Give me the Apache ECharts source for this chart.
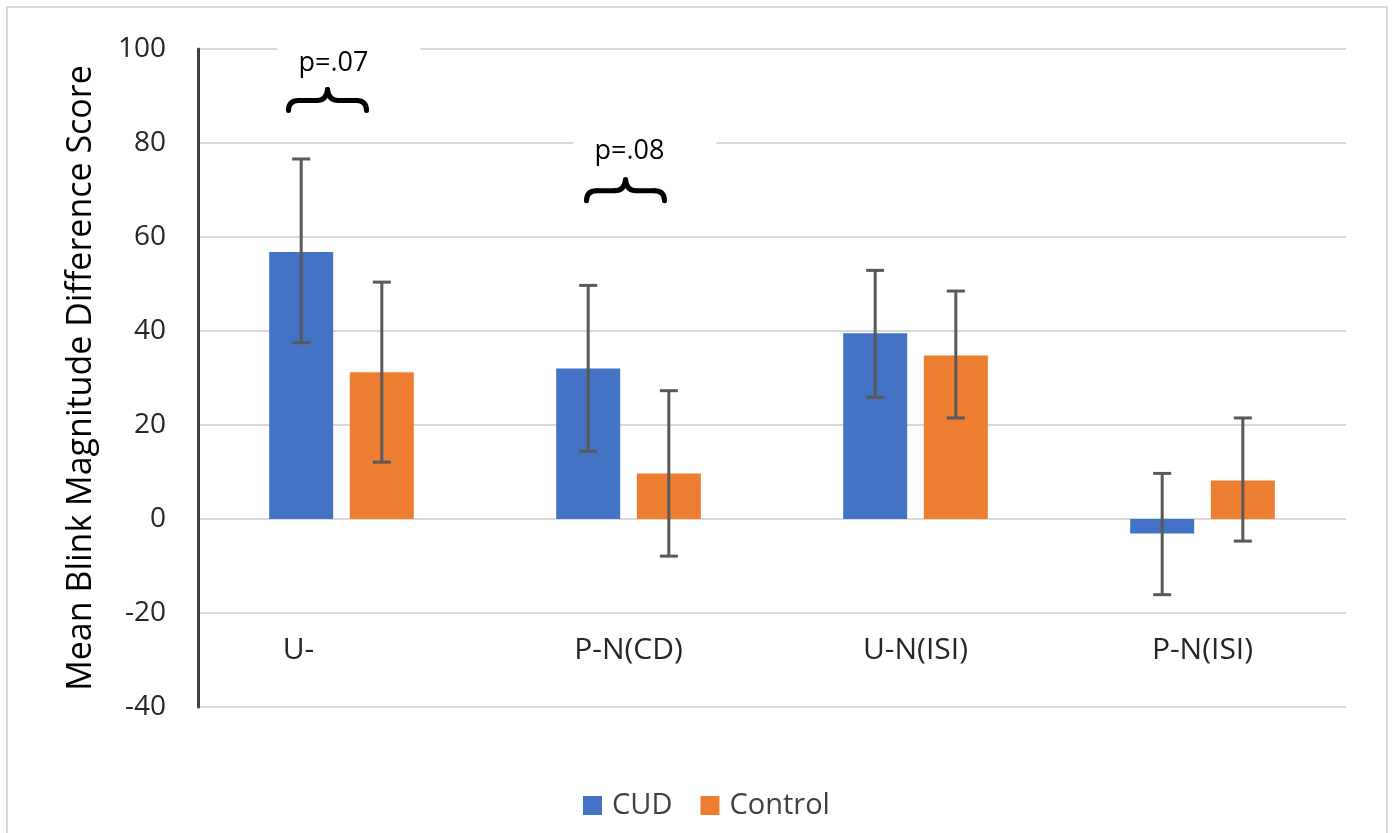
<!DOCTYPE html>
<html>
<head>
<meta charset="utf-8">
<script src="https://cdn.jsdelivr.net/npm/echarts@6/dist/echarts.min.js"></script>
<style>
html,body{margin:0;padding:0;background:#fff;}
#c{width:1392px;height:833px;}
</style>
</head>
<body>
<div id="c"></div>
<script>
var categories = ['U-', 'P-N(CD)', 'U-N(ISI)', 'P-N(ISI)'];
var cudValues = [56.8, 32.0, 39.5, -3.1];
var controlValues = [31.2, 9.7, 34.8, 8.2];
var cudErrLow = [37.5, 14.4, 25.9, -16.1];
var cudErrHigh = [76.6, 49.7, 52.9, 9.7];
var controlErrLow = [12.1, -7.9, 21.5, -4.7];
var controlErrHigh = [50.4, 27.3, 48.5, 21.5];
var yTicks = [-40, -20, 0, 20, 40, 60, 80, 100];
var seriesNames = ['CUD', 'Control'];

var FONT = 'Open Sans';
var chart = echarts.init(document.getElementById('c'));

var BAR_W = 64, BAR_GAP = '26%';

function errSeries(low, high, idx) {
  var data = low.map(function (l, i) { return [i, l, high[i]]; });
  return {
    type: 'custom',
    name: seriesNames[idx] + ' err',
    data: data,
    z: 10,
    silent: true,
    renderItem: function (params, api) {
      var ci = api.value(0);
      var lo = api.coord([ci, api.value(1)]);
      var hi = api.coord([ci, api.value(2)]);
      var bw = BAR_W, gap = BAR_W * 0.26;
      var offset = (idx === 0 ? -1 : 1) * (bw / 2 + gap / 2);
      var x = lo[0] + offset;
      var cap = 9;
      var st = { stroke: '#595959', lineWidth: 3 };
      return {
        type: 'group',
        children: [
          { type: 'line', shape: { x1: x, y1: lo[1], x2: x, y2: hi[1] }, style: st },
          { type: 'line', shape: { x1: x - cap, y1: lo[1], x2: x + cap, y2: lo[1] }, style: st },
          { type: 'line', shape: { x1: x - cap, y1: hi[1], x2: x + cap, y2: hi[1] }, style: st }
        ]
      };
    }
  };
}

var option = {
  animation: false,
  backgroundColor: '#fff',
  grid: { left: 198, right: 46, top: 49, bottom: 126 },
  legend: {
    data: seriesNames,
    top: 786,
    left: 578,
    itemWidth: 19,
    itemHeight: 19,
    itemGap: 28,
    icon: 'rect',
    textStyle: { fontFamily: FONT, fontSize: 29, color: '#404040', padding: [0, 0, 0, 5] }
  },
  xAxis: {
    type: 'category',
    data: categories,
    axisLine: { show: false },
    axisTick: { show: false },
    splitLine: { show: false },
    axisLabel: {
      margin: -57,
      verticalAlign: 'middle',
      fontFamily: FONT,
      fontSize: 30,
      color: '#262626',
      formatter: function (v, i) { return i === 0 ? '{a|' + v + '}' : v; },
      rich: { a: { fontFamily: FONT, fontSize: 30, color: '#262626', padding: [0, 86, 0, 0] } }
    }
  },
  yAxis: {
    type: 'value',
    min: yTicks[0],
    max: yTicks[yTicks.length - 1],
    interval: 20,
    name: 'Mean Blink Magnitude Difference Score',
    nameLocation: 'middle',
    nameGap: 100,
    nameTextStyle: { fontFamily: FONT, fontSize: 34, color: '#000' },
    axisLine: { show: true, lineStyle: { color: '#404040', width: 3 } },
    axisTick: { show: false },
    axisLabel: { margin: 32, fontFamily: FONT, fontSize: 28, color: '#262626' },
    splitLine: { lineStyle: { color: '#d9d9d9', width: 2 } }
  },
  series: [
    { type: 'bar', name: seriesNames[0], data: cudValues, barWidth: BAR_W, barGap: BAR_GAP, itemStyle: { color: '#4472C4' } },
    { type: 'bar', name: seriesNames[1], data: controlValues, barWidth: BAR_W, barGap: BAR_GAP, itemStyle: { color: '#ED7D31' } },
    errSeries(cudErrLow, cudErrHigh, 0),
    errSeries(controlErrLow, controlErrHigh, 1)
  ]
};
chart.setOption(option);

// annotations positioned from data coordinates
var annotations = [
  { text: 'p=.07', cat: 0, maskValue: 100, textValue: 97, braceValue: 91.6 },
  { text: 'p=.08', cat: 1, maskValue: 80, textValue: 78.3, braceValue: 72.4 }
];
function braceAt(cx, ty) {
  var st = { stroke: '#000', lineWidth: 5, fill: null, lineCap: 'round' };
  return {
    type: 'group', x: cx, y: ty, z: 20,
    children: [
      { type: 'bezierCurve', shape: { x1: -39, y1: 22, cpx1: -39, cpy1: 12, x2: -29, y2: 12 }, style: st },
      { type: 'line', shape: { x1: -29, y1: 12, x2: -11, y2: 12 }, style: st },
      { type: 'bezierCurve', shape: { x1: -11, y1: 12, cpx1: -1, cpy1: 12, x2: 0, y2: 1 }, style: st },
      { type: 'bezierCurve', shape: { x1: 0, y1: 1, cpx1: 1, cpy1: 12, x2: 11, y2: 12 }, style: st },
      { type: 'line', shape: { x1: 11, y1: 12, x2: 29, y2: 12 }, style: st },
      { type: 'bezierCurve', shape: { x1: 29, y1: 12, cpx1: 39, cpy1: 12, x2: 39, y2: 22 }, style: st }
    ]
  };
}
var g = [];
g.push({ type: 'rect', shape: { x: 7, y: 7, width: 1380, height: 840 }, style: { fill: null, stroke: '#d9d9d9', lineWidth: 2 }, z: 0 });
annotations.forEach(function (a, k) {
  var m = chart.convertToPixel({ xAxisIndex: 0, yAxisIndex: 0 }, [a.cat, a.maskValue]);
  var t = chart.convertToPixel({ xAxisIndex: 0, yAxisIndex: 0 }, [a.cat, a.textValue]);
  var b = chart.convertToPixel({ xAxisIndex: 0, yAxisIndex: 0 }, [a.cat, a.braceValue]);
  var cx = m[0] - (k === 0 ? 8 : -1);
  g.push({ type: 'rect', shape: { x: cx - 56, y: m[1] - 8, width: 143, height: 16 }, style: { fill: '#fff' }, z: 15 });
  g.push({ type: 'text', x: cx, y: t[1], style: { text: a.text, font: '27px "' + FONT + '"', fill: '#000', align: 'center', verticalAlign: 'middle' }, z: 20 });
  g.push(braceAt(cx - (k === 0 ? 6 : 4), b[1]));
});
chart.setOption({ graphic: g });
</script>
</body>
</html>
